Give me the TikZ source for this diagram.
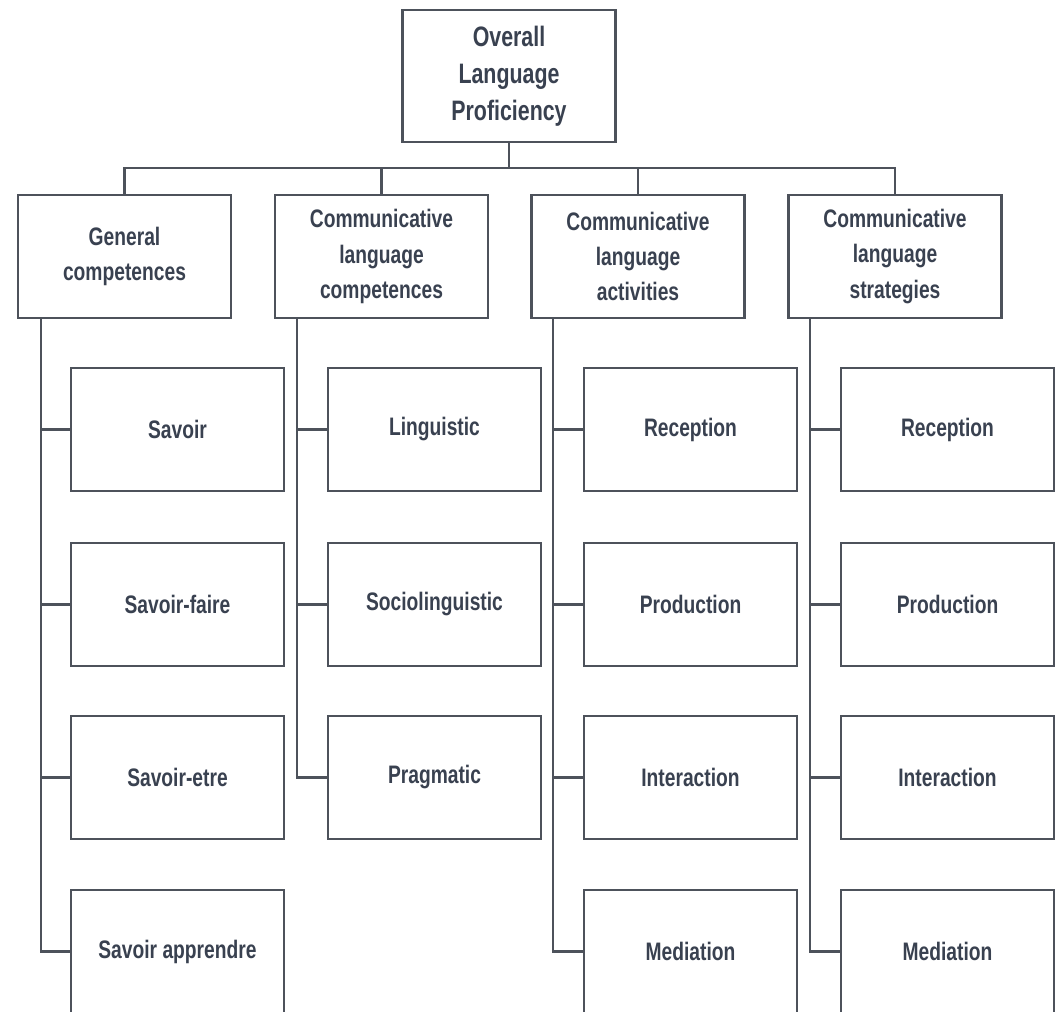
\documentclass[tikz,border=0pt]{standalone}
\usepackage{fontspec}
\setmainfont{Liberation Sans}[FakeStretch=0.76]
\usetikzlibrary{positioning}
\definecolor{boxline}{HTML}{4D525B}
\definecolor{boxtext}{HTML}{394150}

\tikzset{
  box/.style={draw=boxline, line width=1.7pt, fill=white, minimum width=53.25mm,
    minimum height=30.75mm, align=center, text=boxtext,
    font=\bfseries\fontsize{18}{25}\selectfont},
  topbox/.style={box, minimum height=33mm, font=\bfseries\fontsize{20}{26.5}\selectfont},
  link/.style={draw=boxline, line width=1.7pt}
}

\begin{document}
\begin{tikzpicture}[x=0.25mm, y=-0.25mm]
    \useasboundingbox (0,0) rectangle (1059,1013);
    \clip (0,0) rectangle (1059,1011);

    \node[topbox] (olp) at (509,76) {Overall\\Language\\Proficiency};

    \node[box] (gc) at (124.5,256.5) {General\\competences};
    \node[box] (clc) at (381.5,256.5) {Communicative\\language\\competences};
    \node[box] (cla) at (638,256.5) {Communicative\\language\\activities};
    \node[box] (cls) at (895,256.5) {Communicative\\language\\strategies};

    % general competences
    \node[box] (gc1) at (177.5,429.5) {Savoir};
    \node[box] (gc2) at (177.5,604.5) {Savoir-faire};
    \node[box] (gc3) at (177.5,777.5) {Savoir-etre};
    \node[box] (gc4) at (177.5,951.5) {Savoir apprendre};

    % communicative language competences
    \node[box] (clc1) at (434.5,429.5) {Linguistic};
    \node[box] (clc2) at (434.5,604.5) {Sociolinguistic};
    \node[box] (clc3) at (434.5,777.5) {Pragmatic};

    % communicative language activities
    \node[box] (cla1) at (690.5,429.5) {Reception};
    \node[box] (cla2) at (690.5,604.5) {Production};
    \node[box] (cla3) at (690.5,777.5) {Interaction};
    \node[box] (cla4) at (690.5,951.5) {Mediation};

    % communicative language strategies
    \node[box] (cls1) at (947.5,429.5) {Reception};
    \node[box] (cls2) at (947.5,604.5) {Production};
    \node[box] (cls3) at (947.5,777.5) {Interaction};
    \node[box] (cls4) at (947.5,951.5) {Mediation};

    \coordinate (bus) at (509,168);
    \draw[link] (olp) -- (bus);
    \draw[link] (gc) |- (bus);
    \draw[link] (clc) |- (bus);
    \draw[link] (cla) |- (bus);
    \draw[link] (cls) |- (bus);

    \coordinate (gcsp) at (41,318);
    \coordinate (clcsp) at (297,318);
    \coordinate (clasp) at (553,318);
    \coordinate (clssp) at (810,318);

    \foreach \i in {1,...,4} {
      \draw[link] (gcsp) |- (gc\i);
      \draw[link] (clasp) |- (cla\i);
      \draw[link] (clssp) |- (cls\i);
    }
    \foreach \i in {1,...,3} {
      \draw[link] (clcsp) |- (clc\i);
    }
  \end{tikzpicture}
\end{document}
